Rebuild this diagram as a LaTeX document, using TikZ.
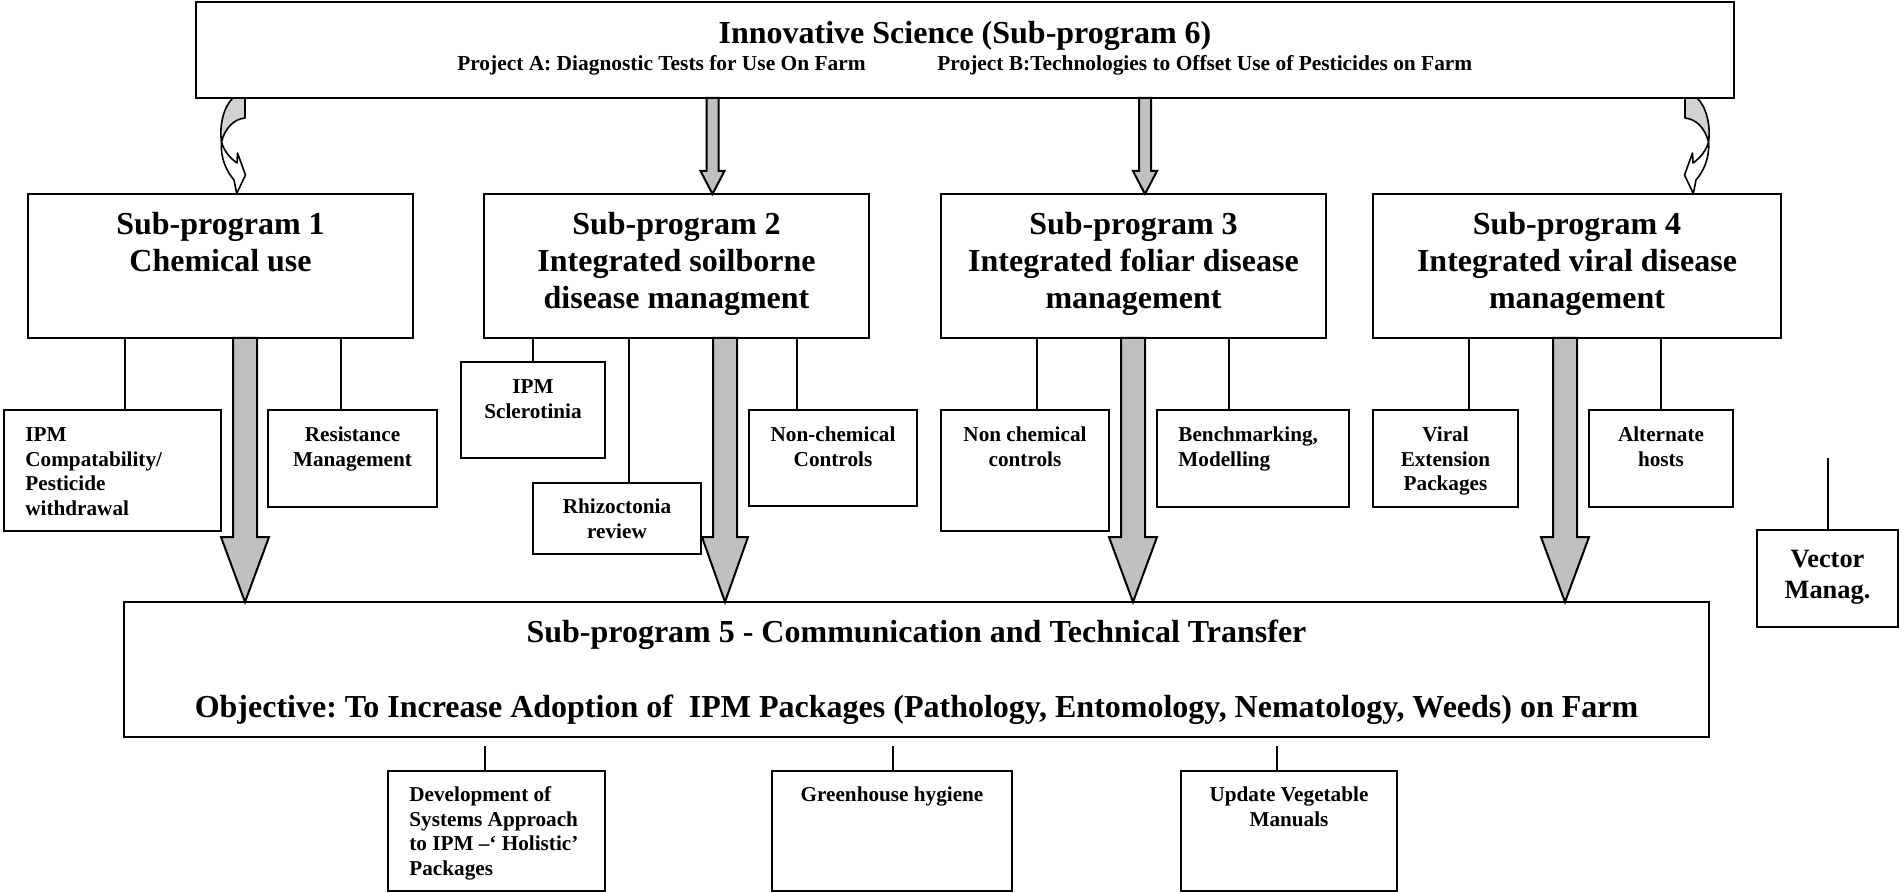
\documentclass[tikz,border=0pt]{standalone}
\usepackage{fontspec}
\setmainfont{Liberation Serif}
\usetikzlibrary{calc}
\frenchspacing
\definecolor{arrowgrey}{HTML}{C0C0C0}
\definecolor{twistgrey}{HTML}{D2D2D2}
% first-line struts: node tops sit exactly one font size above the first baseline
\newcommand\capbig{\rule{0pt}{16pt}}
\newcommand\capsub{\rule{0pt}{10.7pt}}
\newcommand\capsmall{\rule{0pt}{10.6pt}}
\newcommand\capmid{\rule{0pt}{13.2pt}}
% rectangle from its top-left (x1,y1) to bottom-right (x2,y2)
\newcommand\pbox[5]{\node[box, minimum width={(#4-#2)*0.5pt}, minimum height={(#5-#3)*0.5pt}] (#1) at (#2,#3) {};}
% block arrow: start, tip, shaft half width, head half width, head length
\newcommand\blockarrow[5]{%
  \draw[barrow] ($(#1)+(-#3,0)$) -- ($(#1)+(#3,0)$) -- ($(#2)+(#3,-#5)$) -- ($(#2)+(#4,-#5)$)
    -- (#2) -- ($(#2)+(-#4,-#5)$) -- ($(#2)+(-#3,-#5)$) -- cycle;}
% twisted curved arrow (drawn for the left side, mirrored for the right)
\newcommand\twistarrow{%
  \draw[twist, fill=twistgrey] (233,98) -- (245,98) -- (245,118)
    .. controls (234,119) and (225,128) .. (221.5,142)
    .. controls (219,125) and (224,106) .. (233,98) -- cycle;
  \draw[twist, fill=white] (221.5,142) .. controls (220,158) and (227,172) .. (234,180)
    -- (236.7,193.5) -- (245.5,175) -- (237.5,153) -- (237,163)
    .. controls (230,158) and (224,151) .. (221.5,142) -- cycle;}
\begin{document}
\begin{tikzpicture}[x=0.5pt, y=-0.5pt,
  box/.style={draw, line width=1.1pt, inner sep=0pt, outer sep=0pt, anchor=north west},
  big/.style={font=\fontsize{16}{18.5}\selectfont\bfseries, inner sep=0pt, anchor=north, align=center},
  sub/.style={font=\fontsize{10.7}{12.4}\selectfont\bfseries, inner sep=0pt},
  small/.style={font=\fontsize{10.6}{12.35}\selectfont\bfseries, inner sep=0pt, anchor=north, align=center},
  smallleft/.style={small, anchor=north west, align=left},
  mid/.style={font=\fontsize{13.2}{15.5}\selectfont\bfseries, inner sep=0pt, anchor=north, align=center},
  link/.style={line width=0.9pt},
  barrow/.style={line width=1pt, fill=arrowgrey, line join=miter},
  twist/.style={line width=0.8pt, line join=round}]
\useasboundingbox (0,0) rectangle (1901,893);

% ---- boxes ----
\pbox{top}{196}{2}{1734}{98}
\pbox{sp1}{28}{194}{413}{338}
\pbox{sp2}{484}{194}{869}{338}
\pbox{sp3}{941}{194}{1326}{338}
\pbox{sp4}{1373}{194}{1781}{338}
\pbox{sp5}{124}{602}{1709}{737}
\pbox{ipmc}{4}{410}{221}{531}
\pbox{resist}{268}{410}{437}{507}
\pbox{sclero}{461}{362}{605}{458}
\pbox{rhizo}{533}{483}{701}{554}
\pbox{ncc}{749}{410}{917}{506}
\pbox{nonchem}{941}{410}{1109}{531}
\pbox{bench}{1157}{410}{1349}{507}
\pbox{viral}{1373}{410}{1518}{507}
\pbox{alt}{1589}{410}{1733}{507}
\pbox{vector}{1757}{530}{1898}{627}
\pbox{dev}{388}{771}{605}{891}
\pbox{green}{772}{771}{1012}{891}
\pbox{update}{1181}{771}{1397}{891}

% ---- texts ----
\node[big] (toptitle) at (965,11) {\capbig Innovative Science (Sub-program 6)};
\node[sub, anchor=north east] (proja) at (866,48.6) {\capsub Project A: Diagnostic Tests for Use On Farm};
\node[sub, anchor=north west] (projb) at (937,48.6) {\capsub Project B:Technologies to Offset Use of Pesticides on Farm};
\node[big] (sp1t) at (220.5,202) {\capbig Sub-program 1\\Chemical use};
\node[big] (sp2t) at (676.5,202) {\capbig Sub-program 2\\Integrated soilborne\\disease managment};
\node[big] (sp3t) at (1133.5,202) {\capbig Sub-program 3\\Integrated foliar disease\\management};
\node[big] (sp4t) at (1577,202) {\capbig Sub-program 4\\Integrated viral disease\\management};
\node[big] (sp5t) at (916.5,610) {\capbig Sub-program 5 - Communication and Technical Transfer\\[19pt]Objective: To Increase Adoption of~ IPM Packages (Pathology, Entomology, Nematology, Weeds) on Farm};
\node[smallleft] (ipmct) at (25,419.8) {\capsmall IPM\\Compatability/\\Pesticide\\withdrawal};
\node[small] (resistt) at (352.5,419.8) {\capsmall Resistance\\Management};
\node[small] (sclerot) at (533,371.8) {\capsmall IPM\\Sclerotinia};
\node[small] (rhizot) at (617,492) {\capsmall Rhizoctonia\\review};
\node[small] (ncct) at (833,419.8) {\capsmall Non-chemical\\Controls};
\node[small] (nonchemt) at (1025,419.8) {\capsmall Non chemical\\controls};
\node[smallleft] (bencht) at (1178,419.8) {\capsmall Benchmarking,\\Modelling};
\node[small] (viralt) at (1445.5,419.8) {\capsmall Viral\\Extension\\Packages};
\node[small] (altt) at (1661,419.8) {\capsmall Alternate\\hosts};
\node[mid] (vectort) at (1827.5,540.6) {\capmid Vector\\Manag.};
\node[smallleft] (devt) at (409,779.8) {\capsmall Development of\\Systems Approach\\to IPM –‘ Holistic’\\Packages};
\node[small] (greent) at (892,779.8) {\capsmall Greenhouse hygiene};
\node[small] (updatet) at (1289,779.8) {\capsmall Update Vegetable\\Manuals};

% ---- plain connectors ----
\draw[link] (125,0 |- sp1.south) -- (125,0 |- ipmc.north);
\draw[link] (341,0 |- sp1.south) -- (341,0 |- resist.north);
\draw[link] (533,0 |- sp2.south) -- (533,0 |- sclero.north);
\draw[link] (629,0 |- sp2.south) -- (629,0 |- rhizo.north);
\draw[link] (797,0 |- sp2.south) -- (797,0 |- ncc.north);
\draw[link] (1037,0 |- sp3.south) -- (1037,0 |- nonchem.north);
\draw[link] (1229,0 |- sp3.south) -- (1229,0 |- bench.north);
\draw[link] (1469,0 |- sp4.south) -- (1469,0 |- viral.north);
\draw[link] (1661,0 |- sp4.south) -- (1661,0 |- alt.north);
\coordinate (vecfree) at (1828,458);
\draw[link] (vecfree) -- (vecfree |- vector.north);
\coordinate (devfree) at (485,746);
\coordinate (greenfree) at (893,746);
\coordinate (updatefree) at (1277,746);
\draw[link] (devfree) -- (devfree |- dev.north);
\draw[link] (greenfree) -- (greenfree |- green.north);
\draw[link] (updatefree) -- (updatefree |- update.north);

% ---- block arrows ----
\coordinate (a2s) at (712.5,0 |- top.south);
\coordinate (a2e) at (712.5,0 |- sp2.north);
\coordinate (a3s) at (1145,0 |- top.south);
\coordinate (a3e) at (1145,0 |- sp3.north);
\blockarrow{a2s}{a2e}{6}{12}{23}
\blockarrow{a3s}{a3e}{6}{12}{23}
\coordinate (b1s) at (245,0 |- sp1.south);
\coordinate (b1e) at (245,0 |- sp5.north);
\coordinate (b2s) at (725,0 |- sp2.south);
\coordinate (b2e) at (725,0 |- sp5.north);
\coordinate (b3s) at (1133,0 |- sp3.south);
\coordinate (b3e) at (1133,0 |- sp5.north);
\coordinate (b4s) at (1565,0 |- sp4.south);
\coordinate (b4e) at (1565,0 |- sp5.north);
\blockarrow{b1s}{b1e}{12}{24}{65}
\blockarrow{b2s}{b2e}{12}{23}{65}
\blockarrow{b3s}{b3e}{12}{24}{65}
\blockarrow{b4s}{b4e}{12}{24}{65}

% ---- twisted arrows into sub-programs 1 and 4 ----
\twistarrow
\begin{scope}[shift={(1930,0)}, xscale=-1]
  \twistarrow
\end{scope}
\end{tikzpicture}
\end{document}
